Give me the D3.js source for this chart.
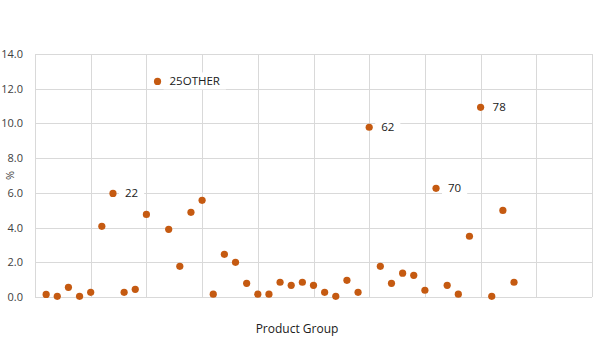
<!DOCTYPE html>
<html>
<head>
<meta charset="utf-8">
<script src="https://cdn.jsdelivr.net/npm/d3@7"></script>
<style>
  body { margin: 0; background: #fff; }
  svg { display: block; }
</style>
</head>
<body>
<svg width="602" height="363"></svg>
<script>
// product group position and share (%)
const groups = [1, 2, 3, 4, 5, 6, 7, 8, 9, 10, 11, 12, 13, 14, 15, 16, 17, 18, 19, 20, 21,
    22, 23, 24, 25, 26, 27, 28, 29, 30, 31, 32, 33, 34, 35, 36, 37, 38, 39, 40, 41, 42, 43];
const shares = [0.15, 0.04, 0.56, 0.04, 0.27, 4.07, 5.97, 0.27, 0.44, 4.76, 12.42, 3.9, 1.77,
    4.88, 5.57, 0.16, 2.46, 2.0, 0.79, 0.16, 0.16, 0.85, 0.67, 0.85, 0.67, 0.27, 0.04, 0.96,
    0.27, 9.78, 1.77, 0.79, 1.37, 1.25, 0.39, 6.26, 0.67, 0.16, 3.5, 10.93, 0.04, 4.99, 0.85];
const pointLabels = ["", "", "", "", "", "", "22", "", "", "", "25OTHER", "", "", "", "", "",
    "", "", "", "", "", "", "", "", "", "", "", "", "", "62", "", "", "", "", "", "70", "", "",
    "", "78", "", "", ""];
const yTicks = [0, 2, 4, 6, 8, 10, 12, 14];
const xGrid = [0, 5, 10, 15, 20, 25, 30, 35, 40, 45, 50];

let svg = d3.select("svg");
const margin = {left: 35, right: 10, top: 54, bottom: 66};
const width = 602, height = 363;
const font = "'Open Sans', 'Noto Sans', sans-serif";

let x = d3.scaleLinear().domain([0, 50]).range([margin.left, width - margin.right]);
let y = d3.scaleLinear().domain([0, 14]).range([height - margin.bottom, margin.top]);

const data = groups.map((g, i) => ({g, v: shares[i], label: pointLabels[i]}));

// gridlines
let grid = svg.append("g").attr("stroke", "#d9d9d9").attr("stroke-width", 1);
grid.selectAll("line.h").data(yTicks).enter().append("line")
    .attr("class", "h")
    .attr("x1", x(0)).attr("x2", x(50))
    .attr("y1", d => Math.round(y(d)) + 0.5).attr("y2", d => Math.round(y(d)) + 0.5);
grid.selectAll("line.v").data(xGrid).enter().append("line")
    .attr("class", "v")
    .attr("x1", d => Math.round(x(d)) + 0.5).attr("x2", d => Math.round(x(d)) + 0.5)
    .attr("y1", y(0)).attr("y2", y(14));

// y tick labels
svg.append("g").selectAll("text").data(yTicks).enter().append("text")
    .attr("x", 23).attr("y", d => y(d) + 4)
    .attr("text-anchor", "end")
    .attr("font-family", font).attr("font-size", 11).attr("fill", "#404040")
    .text(d => d.toFixed(1));

// axis titles
svg.append("text")
    .attr("transform", `translate(14,${(y(0) + y(14)) / 2}) rotate(-90)`)
    .attr("text-anchor", "middle")
    .attr("font-family", font).attr("font-size", 11).attr("fill", "#404040")
    .text("%");
svg.append("text")
    .attr("x", 297).attr("y", 333)
    .attr("text-anchor", "middle")
    .attr("font-family", font).attr("font-size", 12).attr("fill", "#202020")
    .text("Product Group");

// points
svg.append("g").selectAll("circle").data(data).enter().append("circle")
    .attr("cx", d => x(d.g)).attr("cy", d => y(d.v))
    .attr("r", 3.6)
    .attr("fill", "#c55a11");

// data labels with white box
let lbl = svg.append("g").selectAll("g").data(data.filter(d => d.label)).enter().append("g");
lbl.append("rect").attr("fill", "#fff");
lbl.append("text")
    .attr("x", d => x(d.g) + 12).attr("y", d => y(d.v) + 4)
    .attr("font-family", font).attr("font-size", 11.5).attr("fill", "#202020")
    .text(d => d.label);
lbl.each(function () {
    let g = d3.select(this);
    let b = g.select("text").node().getBBox();
    g.select("rect").attr("x", b.x - 6).attr("y", b.y - 1)
        .attr("width", b.width + 12).attr("height", b.height + 2);
});
</script>
</body>
</html>
